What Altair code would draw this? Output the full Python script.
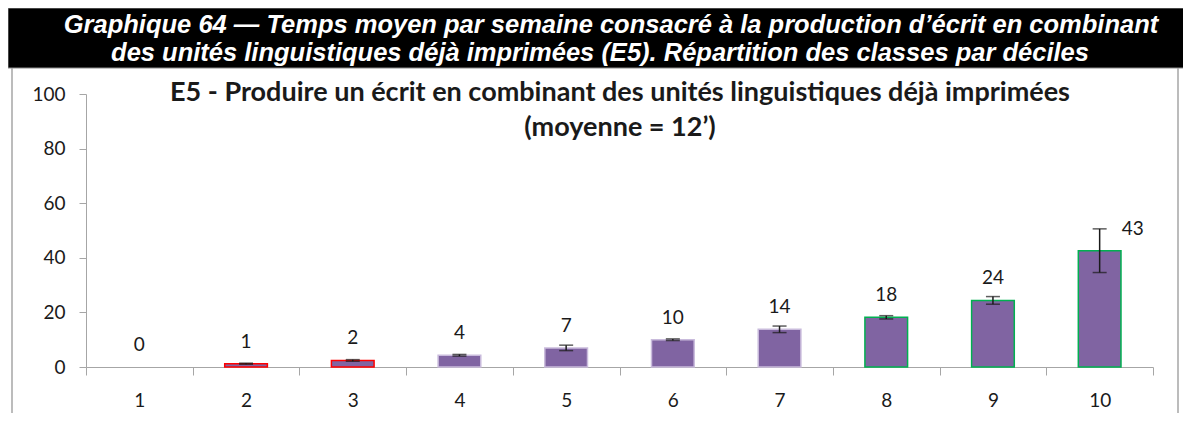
import altair as alt
import pandas as pd

deciles = ["1", "2", "3", "4", "5", "6", "7", "8", "9", "10"]
minutes = [0, 1.2, 2.4, 4.3, 7.0, 10.0, 13.8, 18.2, 24.4, 42.6]
errors = [0, 0.2, 0.3, 0.3, 1.0, 0.3, 1.2, 0.6, 1.4, 8.0]
stroke_colors = ["#ff0000", "#ff0000", "#ff0000", "#c9bbdc", "#c9bbdc", "#c9bbdc",
                 "#c9bbdc", "#00b050", "#00b050", "#00b050"]

header_1 = "Graphique 64 \u2014 Temps moyen par semaine consacr\u00e9 \u00e0 la production d\u2019\u00e9crit en combinant"
header_2 = "des unit\u00e9s linguistiques d\u00e9j\u00e0 imprim\u00e9es (E5). R\u00e9partition des classes par d\u00e9ciles"
sub_1 = "E5 - Produire un \u00e9crit en combinant des unit\u00e9s linguistiques d\u00e9j\u00e0 imprim\u00e9es"
sub_2 = "(moyenne = 12\u2019)"

df = pd.DataFrame({"decile": deciles, "minutes": minutes, "err": errors})
df["low"] = df["minutes"] - df["err"]
df["high"] = df["minutes"] + df["err"]

one = pd.DataFrame({"k": [0]})
FONT = "Lato"
TXT = "#1a1a1a"

x_enc = alt.X("decile:N", sort=deciles, title=None,
              scale=alt.Scale(paddingInner=0, paddingOuter=0),
              axis=alt.Axis(labelAngle=0, tickBand="extent", tickSize=8, tickColor="#a6a6a6",
                            domainColor="#a6a6a6", labelFontSize=19, labelFont=FONT,
                            labelColor=TXT, labelPadding=16))
y_enc = alt.Y("minutes:Q", title=None,
              scale=alt.Scale(domain=[0, 100]),
              axis=alt.Axis(values=[0, 20, 40, 60, 80, 100], grid=False, tickSize=7,
                            tickColor="#a6a6a6", domainColor="#a6a6a6", labelFontSize=19,
                            labelFont=FONT, labelColor=TXT, labelPadding=14))

base = alt.Chart(df)

bars = base.transform_filter(alt.datum.minutes > 0).mark_bar(
    width=alt.RelativeBandSize(0.4), fill="#8064a2", strokeWidth=1.5).encode(
    x=x_enc, y=y_enc,
    stroke=alt.Stroke("decile:N", scale=alt.Scale(domain=deciles, range=stroke_colors), legend=None),
)

err_rule = base.mark_rule(color=TXT, strokeWidth=1.5).encode(
    x=alt.X("decile:N", sort=deciles), y="low:Q", y2="high:Q")
err_low = base.transform_filter(alt.datum.minutes > 0).mark_tick(
    color=TXT, size=14, thickness=1.5, orient="horizontal").encode(
    x=alt.X("decile:N", sort=deciles), y="low:Q")
err_high = base.transform_filter(alt.datum.minutes > 0).mark_tick(
    color=TXT, size=14, thickness=1.5, orient="horizontal").encode(
    x=alt.X("decile:N", sort=deciles), y="high:Q")

labels = base.transform_filter(alt.datum.decile != "10").mark_text(
    font=FONT, fontSize=19, color=TXT, dy=-22, baseline="middle").encode(
    x=alt.X("decile:N", sort=deciles), y="minutes:Q", text=alt.Text("minutes:Q", format=".0f"))
label_last = base.transform_filter(alt.datum.decile == "10").mark_text(
    font=FONT, fontSize=19, color=TXT, dy=-22, dx=33, baseline="middle").encode(
    x=alt.X("decile:N", sort=deciles), y="minutes:Q", text=alt.Text("minutes:Q", format=".0f"))

ob = alt.Chart(one)
header = ob.mark_rect(color="#000000", stroke="#8c8c8c", strokeWidth=1).encode(
    x=alt.value(-78), x2=alt.value(1098), y=alt.value(-86), y2=alt.value(-26))
border_l = ob.mark_rule(color="#a6a6a6", strokeWidth=1.5).encode(
    x=alt.value(-74), y=alt.value(-26), y2=alt.value(330))
border_r = ob.mark_rule(color="#a6a6a6", strokeWidth=1.5).encode(
    x=alt.value(1092), y=alt.value(-26), y2=alt.value(330))
h1 = ob.mark_text(font="Liberation Sans", fontSize=25.5, fontWeight="bold", fontStyle="italic",
                  color="white", align="center", baseline="alphabetic").encode(
    x=alt.value(525), y=alt.value(-61), text=alt.value(header_1))
h2 = ob.mark_text(font="Liberation Sans", fontSize=25.5, fontWeight="bold", fontStyle="italic",
                  color="white", align="center", baseline="alphabetic").encode(
    x=alt.value(514), y=alt.value(-33), text=alt.value(header_2))
s1 = ob.mark_text(font=FONT, fontSize=27, fontWeight="bold", color=TXT, align="center",
                  baseline="middle").encode(
    x=alt.value(534), y=alt.value(-1), text=alt.value(sub_1))
s2 = ob.mark_text(font=FONT, fontSize=27, fontWeight="bold", color=TXT, align="center",
                  baseline="middle").encode(
    x=alt.value(534), y=alt.value(34), text=alt.value(sub_2))

chart = alt.layer(
    bars, err_rule, err_low, err_high, labels, label_last,
    header, border_l, border_r, h1, h2, s1, s2
).properties(
    width=1067, height=273,
    padding={"left": 78, "top": 86, "right": 30, "bottom": 46},
    autosize=alt.AutoSizeParams(type="none"),
    background="white",
).configure_view(stroke=None)

chart.save("out.html", embed_options={"renderer": "svg", "actions": False})
